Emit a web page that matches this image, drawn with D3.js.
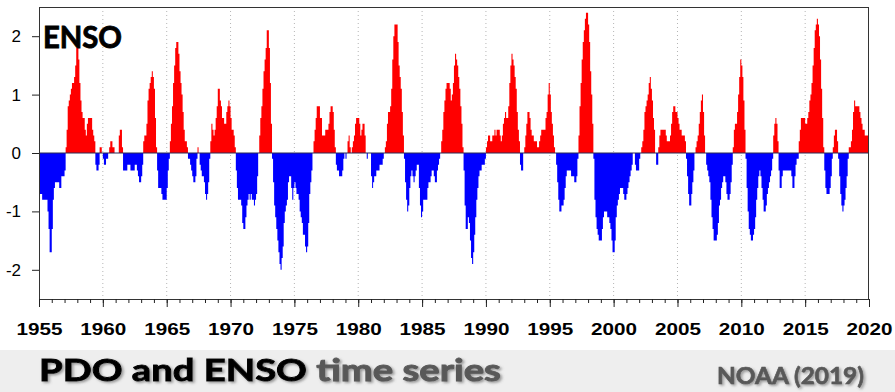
<!DOCTYPE html>
<html>
<head>
<meta charset="utf-8">
<script src="https://cdn.jsdelivr.net/npm/d3@7"></script>
<style>
  html, body { margin: 0; padding: 0; background: #fff; }
  svg { display: block; }
</style>
</head>
<body>
<svg id="chart" width="895" height="392"></svg>
<script>
// monthly ENSO index, one row per year, Jan..Dec
const startYear = 1955;
const oni = [
  -0.7,-0.7,-0.7,-0.8,-0.8,-0.8,-0.8,-0.8,-1.0,-1.3,-1.7,-1.7, // 1955
  -1.3,-0.8,-0.6,-0.5,-0.5,-0.5,-0.5,-0.6,-0.6,-0.4,-0.4,-0.4,
  -0.3, 0.1, 0.4, 0.8, 0.9, 1.0, 1.1, 1.2, 1.2, 1.3, 1.5, 1.8,
   1.8, 1.6, 1.2, 0.9, 0.7, 0.6, 0.6, 0.4, 0.3, 0.5, 0.6, 0.6,
   0.6, 0.6, 0.4, 0.3, 0.2,-0.2,-0.3,-0.3,-0.2, 0.1, 0.1, 0.0,
  -0.1,-0.2,-0.2,-0.1,-0.1, 0.0, 0.1, 0.2, 0.2, 0.1, 0.1, 0.0, // 1960
   0.0, 0.0, 0.0, 0.3, 0.4, 0.4, 0.1,-0.3,-0.3,-0.3,-0.3,-0.2,
  -0.2,-0.2,-0.3,-0.3,-0.3,-0.3,-0.2,-0.2,-0.3,-0.4,-0.5,-0.5,
  -0.4,-0.2, 0.2, 0.3, 0.3, 0.5, 0.9, 1.1, 1.2, 1.3, 1.4, 1.3,
   1.1, 0.6, 0.1,-0.3,-0.6,-0.6,-0.6,-0.7,-0.8,-0.8,-0.8,-0.8,
  -0.6,-0.3,-0.1, 0.2, 0.5, 0.8, 1.2, 1.5, 1.8, 1.9, 1.9, 1.7, // 1965
   1.4, 1.2, 1.0, 0.7, 0.4, 0.2, 0.2, 0.1,-0.1,-0.1,-0.2,-0.3,
  -0.4,-0.5,-0.5,-0.4,-0.1, 0.1, 0.0,-0.2,-0.3,-0.4,-0.4,-0.5,
  -0.7,-0.8,-0.7,-0.5,-0.1, 0.2, 0.5, 0.4, 0.3, 0.4, 0.6, 0.8,
   1.1, 1.1, 0.9, 0.8, 0.6, 0.6, 0.5, 0.5, 0.7, 0.8, 0.9, 0.8,
   0.6, 0.4, 0.4, 0.3, 0.1,-0.3,-0.6,-0.8,-0.8,-0.8,-0.9,-1.2, // 1970
  -1.3,-1.3,-1.1,-0.9,-0.8,-0.7,-0.8,-0.7,-0.8,-0.8,-0.9,-0.8,
  -0.7,-0.4, 0.0, 0.3, 0.6, 0.8, 1.1, 1.4, 1.6, 1.8, 2.1, 2.1,
   1.8, 1.2, 0.5,-0.1,-0.5,-0.9,-1.1,-1.3,-1.5,-1.7,-1.9,-2.0,
  -1.8,-1.6,-1.2,-1.0,-0.9,-0.8,-0.5,-0.4,-0.4,-0.6,-0.8,-0.6,
  -0.5,-0.6,-0.7,-0.7,-0.8,-1.0,-1.1,-1.2,-1.4,-1.4,-1.6,-1.7, // 1975
  -1.6,-1.2,-0.7,-0.5,-0.3, 0.0, 0.2, 0.4, 0.6, 0.8, 0.8, 0.8,
   0.6, 0.6, 0.3, 0.3, 0.3, 0.4, 0.4, 0.4, 0.5, 0.7, 0.8, 0.8,
   0.7, 0.4, 0.1,-0.2,-0.3,-0.3,-0.4,-0.4,-0.4,-0.3,-0.1, 0.0,
  -0.1, 0.0, 0.2, 0.3, 0.1, 0.0, 0.1, 0.2, 0.3, 0.5, 0.6, 0.6,
   0.6, 0.5, 0.3, 0.4, 0.5, 0.5, 0.3, 0.0,-0.1, 0.0, 0.0, 0.0, // 1980
  -0.4,-0.6,-0.5,-0.4,-0.4,-0.3,-0.3,-0.3,-0.2,-0.2,-0.2,-0.1,
   0.0, 0.1, 0.2, 0.5, 0.7, 0.7, 0.8, 1.1, 1.6, 2.0, 2.2, 2.2,
   2.2, 1.9, 1.5, 1.3, 1.1, 0.7, 0.3,-0.1,-0.5,-0.8,-1.0,-0.9,
  -0.6,-0.4,-0.3,-0.4,-0.5,-0.4,-0.3,-0.2,-0.2,-0.6,-0.9,-1.1,
  -1.0,-0.8,-0.8,-0.8,-0.8,-0.6,-0.5,-0.5,-0.4,-0.3,-0.3,-0.4, // 1985
  -0.5,-0.5,-0.3,-0.2,-0.1, 0.0, 0.2, 0.4, 0.7, 0.9, 1.1, 1.2,
   1.2, 1.2, 1.1, 0.9, 1.0, 1.2, 1.5, 1.7, 1.6, 1.5, 1.3, 1.1,
   0.8, 0.5, 0.1,-0.3,-0.9,-1.3,-1.3,-1.1,-1.2,-1.5,-1.8,-1.9,
  -1.7,-1.4,-1.1,-0.8,-0.6,-0.4,-0.3,-0.3,-0.2,-0.2,-0.2,-0.1,
   0.1, 0.2, 0.3, 0.3, 0.2, 0.2, 0.3, 0.3, 0.4, 0.3, 0.4, 0.4, // 1990
   0.4, 0.3, 0.2, 0.3, 0.5, 0.6, 0.7, 0.6, 0.6, 0.8, 1.2, 1.5,
   1.7, 1.6, 1.5, 1.3, 1.1, 0.7, 0.4, 0.2,-0.2,-0.3,-0.3, 0.0,
   0.1, 0.3, 0.5, 0.7, 0.7, 0.6, 0.4, 0.3, 0.3, 0.2, 0.2, 0.2,
   0.1, 0.1, 0.2, 0.3, 0.4, 0.4, 0.4, 0.4, 0.6, 0.7, 1.0, 1.2,
   1.0, 0.7, 0.5, 0.3, 0.1, 0.0,-0.2,-0.5,-0.8,-1.0,-1.0,-0.9, // 1995
  -0.9,-0.8,-0.6,-0.4,-0.3,-0.3,-0.3,-0.3,-0.4,-0.4,-0.4,-0.5,
  -0.5,-0.4,-0.1, 0.3, 0.8, 1.2, 1.6, 1.9, 2.1, 2.3, 2.4, 2.4,
   2.2, 1.9, 1.4, 1.0, 0.5,-0.1,-0.8,-1.1,-1.3,-1.4,-1.5,-1.5,
  -1.5,-1.3,-1.1,-1.0,-1.0,-1.0,-1.1,-1.1,-1.2,-1.3,-1.5,-1.7,
  -1.7,-1.5,-1.1,-0.9,-0.8,-0.7,-0.6,-0.6,-0.6,-0.7,-0.8,-0.8, // 2000
  -0.7,-0.6,-0.5,-0.4,-0.3,-0.2, 0.0, 0.0,-0.2,-0.3,-0.3,-0.3,
  -0.1, 0.0, 0.1, 0.2, 0.4, 0.7, 0.8, 0.9, 1.0, 1.2, 1.3, 1.1,
   0.9, 0.6, 0.4, 0.0,-0.2,-0.2, 0.1, 0.3, 0.4, 0.4, 0.4, 0.4,
   0.4, 0.3, 0.2, 0.2, 0.2, 0.3, 0.5, 0.7, 0.8, 0.8, 0.7, 0.7,
   0.6, 0.5, 0.4, 0.4, 0.3, 0.3, 0.3, 0.2,-0.1,-0.4,-0.7,-0.9, // 2005
  -0.9,-0.7,-0.5,-0.3, 0.0, 0.1, 0.2, 0.3, 0.5, 0.7, 0.9, 1.0,
   0.7, 0.3, 0.0,-0.2,-0.3,-0.4,-0.5,-0.8,-1.1,-1.3,-1.5,-1.5,
  -1.5,-1.4,-1.2,-0.9,-0.8,-0.6,-0.5,-0.4,-0.4,-0.5,-0.7,-0.8,
  -0.8,-0.7,-0.5,-0.2, 0.1, 0.4, 0.5, 0.5, 0.7, 1.0, 1.3, 1.6,
   1.5, 1.3, 0.9, 0.4,-0.1,-0.6,-1.0,-1.3,-1.4,-1.5,-1.5,-1.4, // 2010
  -1.3,-1.1,-0.8,-0.6,-0.4,-0.3,-0.4,-0.6,-0.8,-1.0,-1.0,-0.9,
  -0.7,-0.6,-0.5,-0.4,-0.3,-0.1, 0.3, 0.5, 0.6, 0.5, 0.2,-0.3,
  -0.6,-0.6,-0.4,-0.3,-0.3,-0.3,-0.3,-0.3,-0.3,-0.3,-0.3,-0.4,
  -0.6,-0.6,-0.4,-0.2,-0.1,-0.1, 0.2, 0.4, 0.6, 0.6, 0.6, 0.6,
   0.5, 0.5, 0.6, 0.7, 0.9, 1.0, 1.2, 1.5, 1.8, 2.1, 2.2, 2.3, // 2015
   2.2, 2.0, 1.6, 1.1, 0.6, 0.1,-0.3,-0.6,-0.7,-0.7,-0.7,-0.6,
  -0.4,-0.1, 0.1, 0.3, 0.4, 0.4, 0.2,-0.1,-0.4,-0.7,-0.9,-1.0,
  -0.9,-0.8,-0.6,-0.4,-0.1, 0.1, 0.1, 0.2, 0.4, 0.7, 0.9, 0.8,
   0.8, 0.8, 0.8, 0.7, 0.6, 0.5, 0.4, 0.4, 0.3, 0.3, 0.3, 0.3  // 2019
];

const xTickYears = [1955, 1960, 1965, 1970, 1975, 1980, 1985, 1990, 1995, 2000, 2005, 2010, 2015, 2020];
const yTickValues = [-2, -1, 0, 1, 2];
const panelLabel = "ENSO";
const titleMain = "PDO and ENSO";
const titleRest = " time series";
const sourceText = "NOAA (2019)";

const svg = d3.select("#chart");
const W = 895, H = 392;
const plot = { left: 39, right: 869, top: 7, bottom: 299 };

const points = oni.map((v, i) => ({ date: new Date(startYear, i, 1), v }));
// closing point so the last step has a width
points.push({ date: new Date(startYear, oni.length, 1), v: oni[oni.length - 1] });

const x = d3.scaleTime()
  .domain([new Date(xTickYears[0], 0, 1), new Date(xTickYears[xTickYears.length - 1], 0, 1)])
  .range([plot.left, plot.right]);
const y = d3.scaleLinear().domain([-2.5, 2.5]).range([plot.bottom, plot.top]);

const defs = svg.append("defs");
defs.append("filter").attr("id", "shadow")
  .attr("x", "-5%").attr("y", "-20%").attr("width", "110%").attr("height", "150%")
  .append("feDropShadow")
  .attr("dx", 1.5).attr("dy", 1.5).attr("stdDeviation", 1.2)
  .attr("flood-color", "#666").attr("flood-opacity", 0.65);

svg.append("rect").attr("width", W).attr("height", H).attr("fill", "#fff");

// vertical dotted grid
svg.append("g")
  .selectAll("line")
  .data(xTickYears.slice(1, -1))
  .join("line")
  .attr("x1", d => x(new Date(d, 0, 1)))
  .attr("x2", d => x(new Date(d, 0, 1)))
  .attr("y1", plot.top)
  .attr("y2", plot.bottom)
  .attr("stroke", "#b5b5b5")
  .attr("stroke-width", 1)
  .attr("stroke-dasharray", "1,3");

const areaPos = d3.area()
  .curve(d3.curveStepAfter)
  .x(d => x(d.date))
  .y0(y(0))
  .y1(d => y(Math.max(0, d.v)));
const areaNeg = d3.area()
  .curve(d3.curveStepAfter)
  .x(d => x(d.date))
  .y0(y(0))
  .y1(d => y(Math.min(0, d.v)));

svg.append("path").datum(points).attr("d", areaPos).attr("fill", "#ff0000");
svg.append("path").datum(points).attr("d", areaNeg).attr("fill", "#0000ff");

// zero line
svg.append("line")
  .attr("x1", plot.left).attr("x2", plot.right)
  .attr("y1", y(0)).attr("y2", y(0))
  .attr("stroke", "#2a2a55").attr("stroke-width", 1);

// frame
svg.append("rect")
  .attr("x", plot.left + 0.5).attr("y", plot.top + 0.5)
  .attr("width", plot.right - plot.left - 1).attr("height", plot.bottom - plot.top)
  .attr("fill", "none").attr("stroke", "#333").attr("stroke-width", 1);

// x axis: yearly minor ticks, 5-year labelled ticks
svg.append("g")
  .attr("transform", `translate(0,${plot.bottom})`)
  .call(d3.axisBottom(x).ticks(d3.timeYear.every(1)).tickSize(4).tickFormat(""))
  .call(g => g.select(".domain").remove())
  .call(g => g.selectAll("line").attr("stroke", "#222"));

svg.append("g")
  .attr("transform", `translate(0,${plot.bottom})`)
  .call(d3.axisBottom(x)
    .tickValues(xTickYears.map(d => new Date(d, 0, 1)))
    .tickSize(8).tickPadding(16)
    .tickFormat(d3.timeFormat("%Y")))
  .call(g => g.select(".domain").remove())
  .call(g => g.selectAll("line").attr("stroke", "#222"))
  .call(g => g.selectAll("text")
    .attr("font-family", "'Liberation Sans', Arial, sans-serif")
    .attr("font-weight", "bold")
    .attr("font-size", 17)
    .attr("fill", "#000")
    .attr("textLength", 46)
    .attr("lengthAdjust", "spacingAndGlyphs"));

// y axis
svg.append("g")
  .attr("transform", `translate(${plot.left},0)`)
  .call(d3.axisLeft(y).tickValues(yTickValues).tickSize(7).tickPadding(11).tickFormat(d => String(d)))
  .call(g => g.select(".domain").remove())
  .call(g => g.selectAll("line").attr("stroke", "#222"))
  .call(g => g.selectAll("text")
    .attr("font-family", "'Liberation Sans', Arial, sans-serif")
    .attr("font-size", 17)
    .attr("fill", "#000"));

// fit a text node to a given pixel width by horizontal scaling
function fitText(sel, x0, y0, width) {
  const w = sel.node().getComputedTextLength();
  sel.attr("transform", `translate(${x0},${y0}) scale(${width / w},1)`);
}

const ensoLabel = svg.append("text")
  .attr("font-family", "Lato, 'Open Sans', sans-serif")
  .attr("font-weight", 700)
  .attr("font-size", 31)
  .attr("fill", "#000")
  .attr("stroke", "#000")
  .attr("stroke-width", 0.9)
  .text(panelLabel);
fitText(ensoLabel, 43, 47.5, 79);

// bottom title band
svg.append("rect")
  .attr("x", 0).attr("y", 350).attr("width", W).attr("height", H - 350)
  .attr("fill", "#eeeeee");

const title = svg.append("text")
  .attr("font-family", "Lato, 'Open Sans', sans-serif")
  .attr("font-weight", 700)
  .attr("font-size", 31)
  .attr("filter", "url(#shadow)");
title.append("tspan").attr("fill", "#000").attr("stroke", "#000").attr("stroke-width", 0.9).text(titleMain);
title.append("tspan").attr("fill", "#595959").attr("stroke", "#595959").attr("stroke-width", 0.9).text(titleRest);
fitText(title, 39, 381, 462);

const source = svg.append("text")
  .attr("font-family", "Lato, 'Open Sans', sans-serif")
  .attr("font-weight", 700)
  .attr("font-size", 22)
  .attr("fill", "#595959")
  .attr("stroke", "#595959")
  .attr("stroke-width", 0.6)
  .attr("filter", "url(#shadow)")
  .text(sourceText);
fitText(source, 717, 384, 147);
</script>
</body>
</html>
